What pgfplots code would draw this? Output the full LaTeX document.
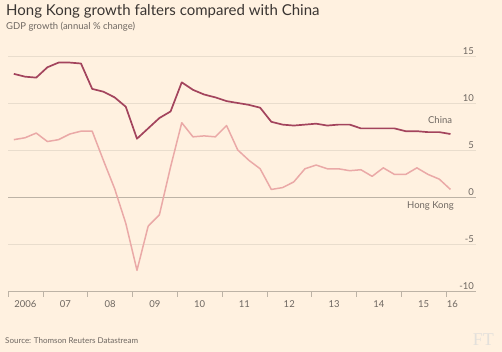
\documentclass[border=0pt]{standalone}
\usepackage{pgfplots}
\pgfplotsset{compat=1.18}
\usepackage{fontspec}
\setmainfont{Lato}
\definecolor{ftbg}{HTML}{FFF1E0}
\definecolor{fttext}{HTML}{6E6761}
\definecolor{fttitle}{HTML}{3A3532}
\definecolor{ftgrid}{HTML}{E9DDCD}
\definecolor{ftaxis}{HTML}{BDB3A6}
\definecolor{china}{HTML}{A3445D}
\definecolor{hk}{HTML}{EAA9A7}
\begin{document}
\begin{tikzpicture}[x=1pt,y=1pt]
\fill[ftbg] (0,0) rectangle (502,352);
\useasboundingbox (0,0) rectangle (502,352);
\node[anchor=base west, inner sep=0, text=fttitle, font=\fontsize{15}{17}\selectfont] at (6,336) {Hong Kong growth falters compared with China};
\node[anchor=base west, inner sep=0, text=fttext, font=\fontsize{9.5}{11}\selectfont] at (6,322) {GDP growth (annual \% change)};
\node[anchor=base west, inner sep=0, text=fttext, font=\fontsize{8}{10}\selectfont] at (5,8) {Source: Thomson Reuters Datastream};
\node[anchor=base east, inner sep=0, text=ftgrid!80!black!40, font=\fontspec{Liberation Serif}\fontsize{18}{20}\selectfont] at (494,6) {FT};
\begin{axis}[
  at={(8pt,61pt)}, anchor=south west,
  width=468pt, height=235pt, scale only axis,
  xmin=2006.22, xmax=2016.67,
  ymin=-10, ymax=15,
  axis x line*=bottom, axis y line*=right,
  y axis line style={draw=none},
  x axis line style={draw=ftaxis, line width=0.8pt},
  ytick={-10,-5,0,5,10,15},
  ymajorgrids, major grid style={draw=ftgrid, line width=0.7pt},
  ytick style={draw=none},
  yticklabel style={anchor=south east, inner sep=1pt, text=fttext, font=\fontsize{9.5}{11}\selectfont, xshift=-1pt, yshift=0.5pt},
  /pgf/number format/assume math mode=true,
  xtick={2006.22,2007,2008,2009,2010,2011,2012,2013,2014,2015,2016},
  xticklabels={},
  xtick align=outside,
  xtick style={draw=ftaxis, line width=0.7pt},
  major tick length=6pt,
  extra x ticks={2006.61,2007.5,2008.5,2009.5,2010.5,2011.5,2012.5,2013.5,2014.5,2015.5,2016.14},
  extra x tick labels={2006,07,08,09,10,11,12,13,14,15,16},
  extra x tick style={major tick length=0pt, grid=none, xticklabel style={text=fttext, font=\fontsize{9.5}{11}\selectfont, yshift=-6pt}},
  clip=false,
]
\draw[ftaxis, line width=0.8pt] (axis cs:2006.22,0) -- (axis cs:2016.67,0);
\addplot[hk, line width=1.5pt, line join=round] coordinates {
(2006.35,6.1) (2006.60,6.3) (2006.85,6.8) (2007.10,5.9) (2007.35,6.1)
(2007.60,6.7) (2007.85,7.0) (2008.10,7.0) (2008.35,3.9) (2008.60,0.9)
(2008.85,-2.8) (2009.10,-7.8) (2009.35,-3.1) (2009.60,-1.9) (2009.85,3.2)
(2010.10,7.9) (2010.35,6.4) (2010.60,6.5) (2010.85,6.4) (2011.10,7.6)
(2011.35,5.0) (2011.60,3.9) (2011.85,3.0) (2012.10,0.8) (2012.35,1.0)
(2012.60,1.6) (2012.85,3.0) (2013.10,3.4) (2013.35,3.0) (2013.60,3.0)
(2013.85,2.8) (2014.10,2.9) (2014.35,2.2) (2014.60,3.1) (2014.85,2.4)
(2015.10,2.4) (2015.35,3.1) (2015.60,2.4) (2015.85,1.9) (2016.10,0.8)
};
\addplot[china, line width=1.7pt, line join=round] coordinates {
(2006.35,13.1) (2006.60,12.8) (2006.85,12.7) (2007.10,13.8) (2007.35,14.3)
(2007.60,14.3) (2007.85,14.2) (2008.10,11.5) (2008.35,11.2) (2008.60,10.6)
(2008.85,9.6) (2009.10,6.2) (2009.35,7.3) (2009.60,8.4) (2009.85,9.1)
(2010.10,12.2) (2010.35,11.4) (2010.60,10.9) (2010.85,10.6) (2011.10,10.2)
(2011.35,10.0) (2011.60,9.8) (2011.85,9.5) (2012.10,8.0) (2012.35,7.7)
(2012.60,7.6) (2012.85,7.7) (2013.10,7.8) (2013.35,7.6) (2013.60,7.7)
(2013.85,7.7) (2014.10,7.3) (2014.35,7.3) (2014.60,7.3) (2014.85,7.3)
(2015.10,7.0) (2015.35,7.0) (2015.60,6.9) (2015.85,6.9) (2016.10,6.7)
};
\node[anchor=east, inner sep=0, text=fttext, font=\fontsize{9.5}{11}\selectfont] at (axis cs:2016.14,8.2) {China};
\node[anchor=east, inner sep=0, text=fttext, font=\fontsize{9.5}{11}\selectfont] at (axis cs:2016.18,-1.0) {Hong Kong};
\end{axis}
\end{tikzpicture}
\end{document}
